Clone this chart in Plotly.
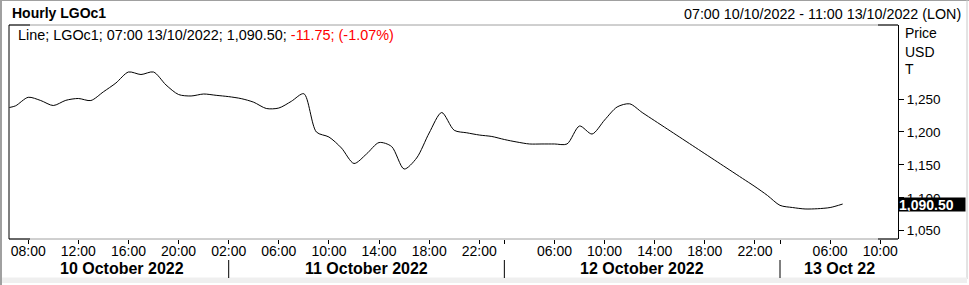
import plotly.graph_objects as go

# ---------------- data ----------------
times = [
    "2022-10-10 06:30", "2022-10-10 07:00", "2022-10-10 08:00", "2022-10-10 09:00",
    "2022-10-10 10:00", "2022-10-10 11:00", "2022-10-10 12:00", "2022-10-10 13:00",
    "2022-10-10 14:00", "2022-10-10 15:00", "2022-10-10 16:00", "2022-10-10 17:00",
    "2022-10-10 18:00", "2022-10-10 19:00", "2022-10-10 20:00", "2022-10-10 21:00",
    "2022-10-10 22:00",
    "2022-10-11 01:00", "2022-10-11 02:00", "2022-10-11 03:00", "2022-10-11 04:00",
    "2022-10-11 05:00", "2022-10-11 06:00", "2022-10-11 07:00", "2022-10-11 08:00",
    "2022-10-11 09:00", "2022-10-11 10:00", "2022-10-11 11:00", "2022-10-11 12:00",
    "2022-10-11 13:00", "2022-10-11 14:00", "2022-10-11 15:00", "2022-10-11 16:00",
    "2022-10-11 17:00", "2022-10-11 18:00", "2022-10-11 19:00", "2022-10-11 20:00",
    "2022-10-11 21:00", "2022-10-11 22:00",
    "2022-10-12 01:00", "2022-10-12 02:00", "2022-10-12 03:00", "2022-10-12 04:00",
    "2022-10-12 05:00", "2022-10-12 06:00", "2022-10-12 07:00", "2022-10-12 08:00",
    "2022-10-12 09:00", "2022-10-12 10:00", "2022-10-12 11:00", "2022-10-12 12:00",
    "2022-10-12 13:00", "2022-10-12 14:00", "2022-10-12 15:00", "2022-10-12 16:00",
    "2022-10-12 17:00", "2022-10-12 18:00", "2022-10-12 19:00", "2022-10-12 20:00",
    "2022-10-12 21:00", "2022-10-12 22:00",
    "2022-10-13 01:00", "2022-10-13 02:00", "2022-10-13 03:00", "2022-10-13 04:00",
    "2022-10-13 05:00", "2022-10-13 06:00", "2022-10-13 07:00",
]
prices = [
    1237.1, 1239.7, 1252.6, 1247.7,
    1240.1, 1248.0, 1250.8, 1247.7,
    1260.9, 1274.3, 1291.0, 1287.2,
    1291.0, 1271.3, 1256.8, 1254.6,
    1257.6,
    1255.6, 1253.6, 1250.6, 1245.1,
    1235.6, 1236.3, 1246.5, 1258.0,
    1199.9, 1192.3, 1175.6, 1152.1,
    1166.5, 1183.9, 1177.9, 1143.7,
    1160.4, 1198.4, 1229.5, 1202.5,
    1198.7, 1195.3,
    1193.1, 1188.5, 1184.7, 1181.7,
    1181.7, 1181.7, 1181.7, 1209.0,
    1196.8, 1218.1, 1237.9, 1242.7,
    1229.5, 1217.0, 1204.5, 1192.0,
    1179.5, 1167.0, 1154.5, 1142.0,
    1129.5, 1117.0,
    1103.5, 1088.5, 1085.2, 1083.0,
    1083.4, 1085.2, 1090.5,
]

tick_times = [
    "2022-10-10 08:00", "2022-10-10 12:00", "2022-10-10 16:00", "2022-10-10 20:00",
    "2022-10-11 02:00", "2022-10-11 06:00", "2022-10-11 10:00", "2022-10-11 14:00",
    "2022-10-11 18:00", "2022-10-11 22:00",
    "2022-10-12 02:00", "2022-10-12 06:00", "2022-10-12 10:00", "2022-10-12 14:00",
    "2022-10-12 18:00", "2022-10-12 22:00",
    "2022-10-13 02:00", "2022-10-13 06:00", "2022-10-13 10:00",
]
tick_labels = [
    "08:00", "12:00", "16:00", "20:00",
    "02:00", "06:00", "10:00", "14:00", "18:00", "22:00",
    "", "06:00", "10:00", "14:00", "18:00", "22:00",
    "", "06:00", "10:00",
]
day_labels = ["10 October 2022", "11 October 2022", "12 October 2022", "13 Oct 22"]
day_label_times = ["2022-10-10 15:30", "2022-10-11 13:00", "2022-10-12 13:00", "2022-10-13 06:45"]
day_separators = ["2022-10-11 02:00", "2022-10-12 02:00", "2022-10-13 02:00"]

y_ticks = [1050, 1100, 1150, 1200, 1250]
last_price = 1090.5
change_text = "-11.75; (-1.07%)"

# ---------------- layout constants ----------------
W, H = 969, 285
ML, MR, MT, MB = 9, 71, 25, 46
PW, PH = W - ML - MR, H - MT - MB
FONT = "Arial, Liberation Sans, sans-serif"


def px(x):
    return (x - ML) / PW


def py(y):
    return (H - MB - y) / PH


fig = go.Figure()
fig.add_trace(go.Scatter(
    x=times, y=prices, mode="lines",
    line=dict(color="black", width=1, shape="spline", smoothing=0.8),
    hoverinfo="skip",
))

shapes = []
grey = "#a0a0a0"
# outer window frame
shapes.append(dict(type="line", xref="paper", yref="paper", x0=px(1), x1=px(1), y0=py(0), y1=py(285),
                   line=dict(color=grey, width=2)))
shapes.append(dict(type="line", xref="paper", yref="paper", x0=px(0), x1=px(969), y0=py(0.5), y1=py(0.5),
                   line=dict(color=grey, width=1)))
shapes.append(dict(type="line", xref="paper", yref="paper", x0=px(967), x1=px(967), y0=py(0), y1=py(279),
                   line=dict(color="#c8c8c8", width=1)))
shapes.append(dict(type="rect", xref="paper", yref="paper", x0=px(2), x1=px(967), y0=py(277.5), y1=py(283),
                   fillcolor="#efefef", line=dict(width=0)))
# plot frame
shapes.append(dict(type="line", xref="paper", yref="paper", x0=0, x1=1, y0=1, y1=1,
                   line=dict(color=grey, width=1)))
shapes.append(dict(type="line", xref="paper", yref="paper", x0=0, x1=1, y0=0, y1=0,
                   line=dict(color=grey, width=1)))
shapes.append(dict(type="line", xref="paper", yref="paper", x0=0, x1=0, y0=0, y1=1,
                   line=dict(color="black", width=1)))
for yy in (0, 1):
    shapes.append(dict(type="line", xref="paper", yref="paper", x0=0, x1=px(30), y0=yy, y1=yy,
                       line=dict(color="black", width=1)))
    shapes.append(dict(type="line", xref="paper", yref="paper", x0=px(878), x1=1, y0=yy, y1=yy,
                       line=dict(color="black", width=1)))
# day separators below the axis
for t in day_separators:
    shapes.append(dict(type="line", xref="x", yref="paper", x0=t, x1=t, y0=py(260), y1=py(278),
                       line=dict(color="black", width=1)))

annotations = []
annotations.append(dict(xref="paper", yref="paper", x=px(10), y=py(13.5), xanchor="left", yanchor="middle",
                        text="<b>Hourly LGOc1</b>", showarrow=False,
                        font=dict(family=FONT, size=14, color="black")))
annotations.append(dict(xref="paper", yref="paper", x=px(963), y=py(14), xanchor="right", yanchor="middle",
                        text="07:00 10/10/2022 - 11:00 13/10/2022 (LON)", showarrow=False,
                        font=dict(family=FONT, size=14.3, color="black")))
annotations.append(dict(xref="paper", yref="paper", x=px(16), y=py(35), xanchor="left", yanchor="middle",
                        text="Line; LGOc1; 07:00 13/10/2022; 1,090.50; "
                             "<span style='color:#ff0000'>" + change_text + "</span>",
                        showarrow=False, font=dict(family=FONT, size=14.4, color="black")))
for label, yy in (("Price", 33.3), ("USD", 51.7), ("T", 69.3)):
    annotations.append(dict(xref="paper", yref="paper", x=px(903), y=py(yy), xanchor="left", yanchor="middle",
                            text=label, showarrow=False, font=dict(family=FONT, size=14, color="black")))
for label, t in zip(day_labels, day_label_times):
    annotations.append(dict(xref="x", yref="paper", x=t, y=py(268.5), xanchor="center", yanchor="middle",
                            text="<b>" + label + "</b>", showarrow=False,
                            font=dict(family=FONT, size=16, color="black")))
annotations.append(dict(xref="paper", yref="y", x=1, y=last_price, xanchor="left", yanchor="middle",
                        text="<b>" + f"{last_price:,.2f}" + "</b>", showarrow=False,
                        bgcolor="black", width=66, height=13, align="left", borderpad=0,
                        font=dict(family=FONT, size=14, color="white")))

fig.update_layout(
    width=W, height=H,
    margin=dict(l=ML, r=MR, t=MT, b=MB),
    paper_bgcolor="white", plot_bgcolor="white",
    showlegend=False,
    font=dict(family=FONT, color="black"),
    shapes=shapes, annotations=annotations,
    xaxis=dict(
        type="date",
        range=["2022-10-10 06:28", "2022-10-13 11:25"],
        rangebreaks=[dict(bounds=[23, 1], pattern="hour")],
        tickmode="array", tickvals=tick_times, ticktext=tick_labels,
        ticks="outside", ticklen=4, tickcolor="black", tickwidth=1,
        ticklabelstandoff=-5,
        showgrid=False, zeroline=False, showline=False,
        tickfont=dict(family=FONT, size=14, color="black"),
        fixedrange=True,
    ),
    yaxis=dict(
        side="right",
        range=[1037.4, 1362.4],
        tickmode="array", tickvals=y_ticks, tickformat=",",
        ticks="outside", ticklen=5, tickcolor="black", tickwidth=1,
        showgrid=False, zeroline=False, showline=True, linecolor="black", linewidth=1,
        tickfont=dict(family=FONT, size=13.5, color="black"),
        fixedrange=True,
    ),
)

fig.write_html("out.html")
